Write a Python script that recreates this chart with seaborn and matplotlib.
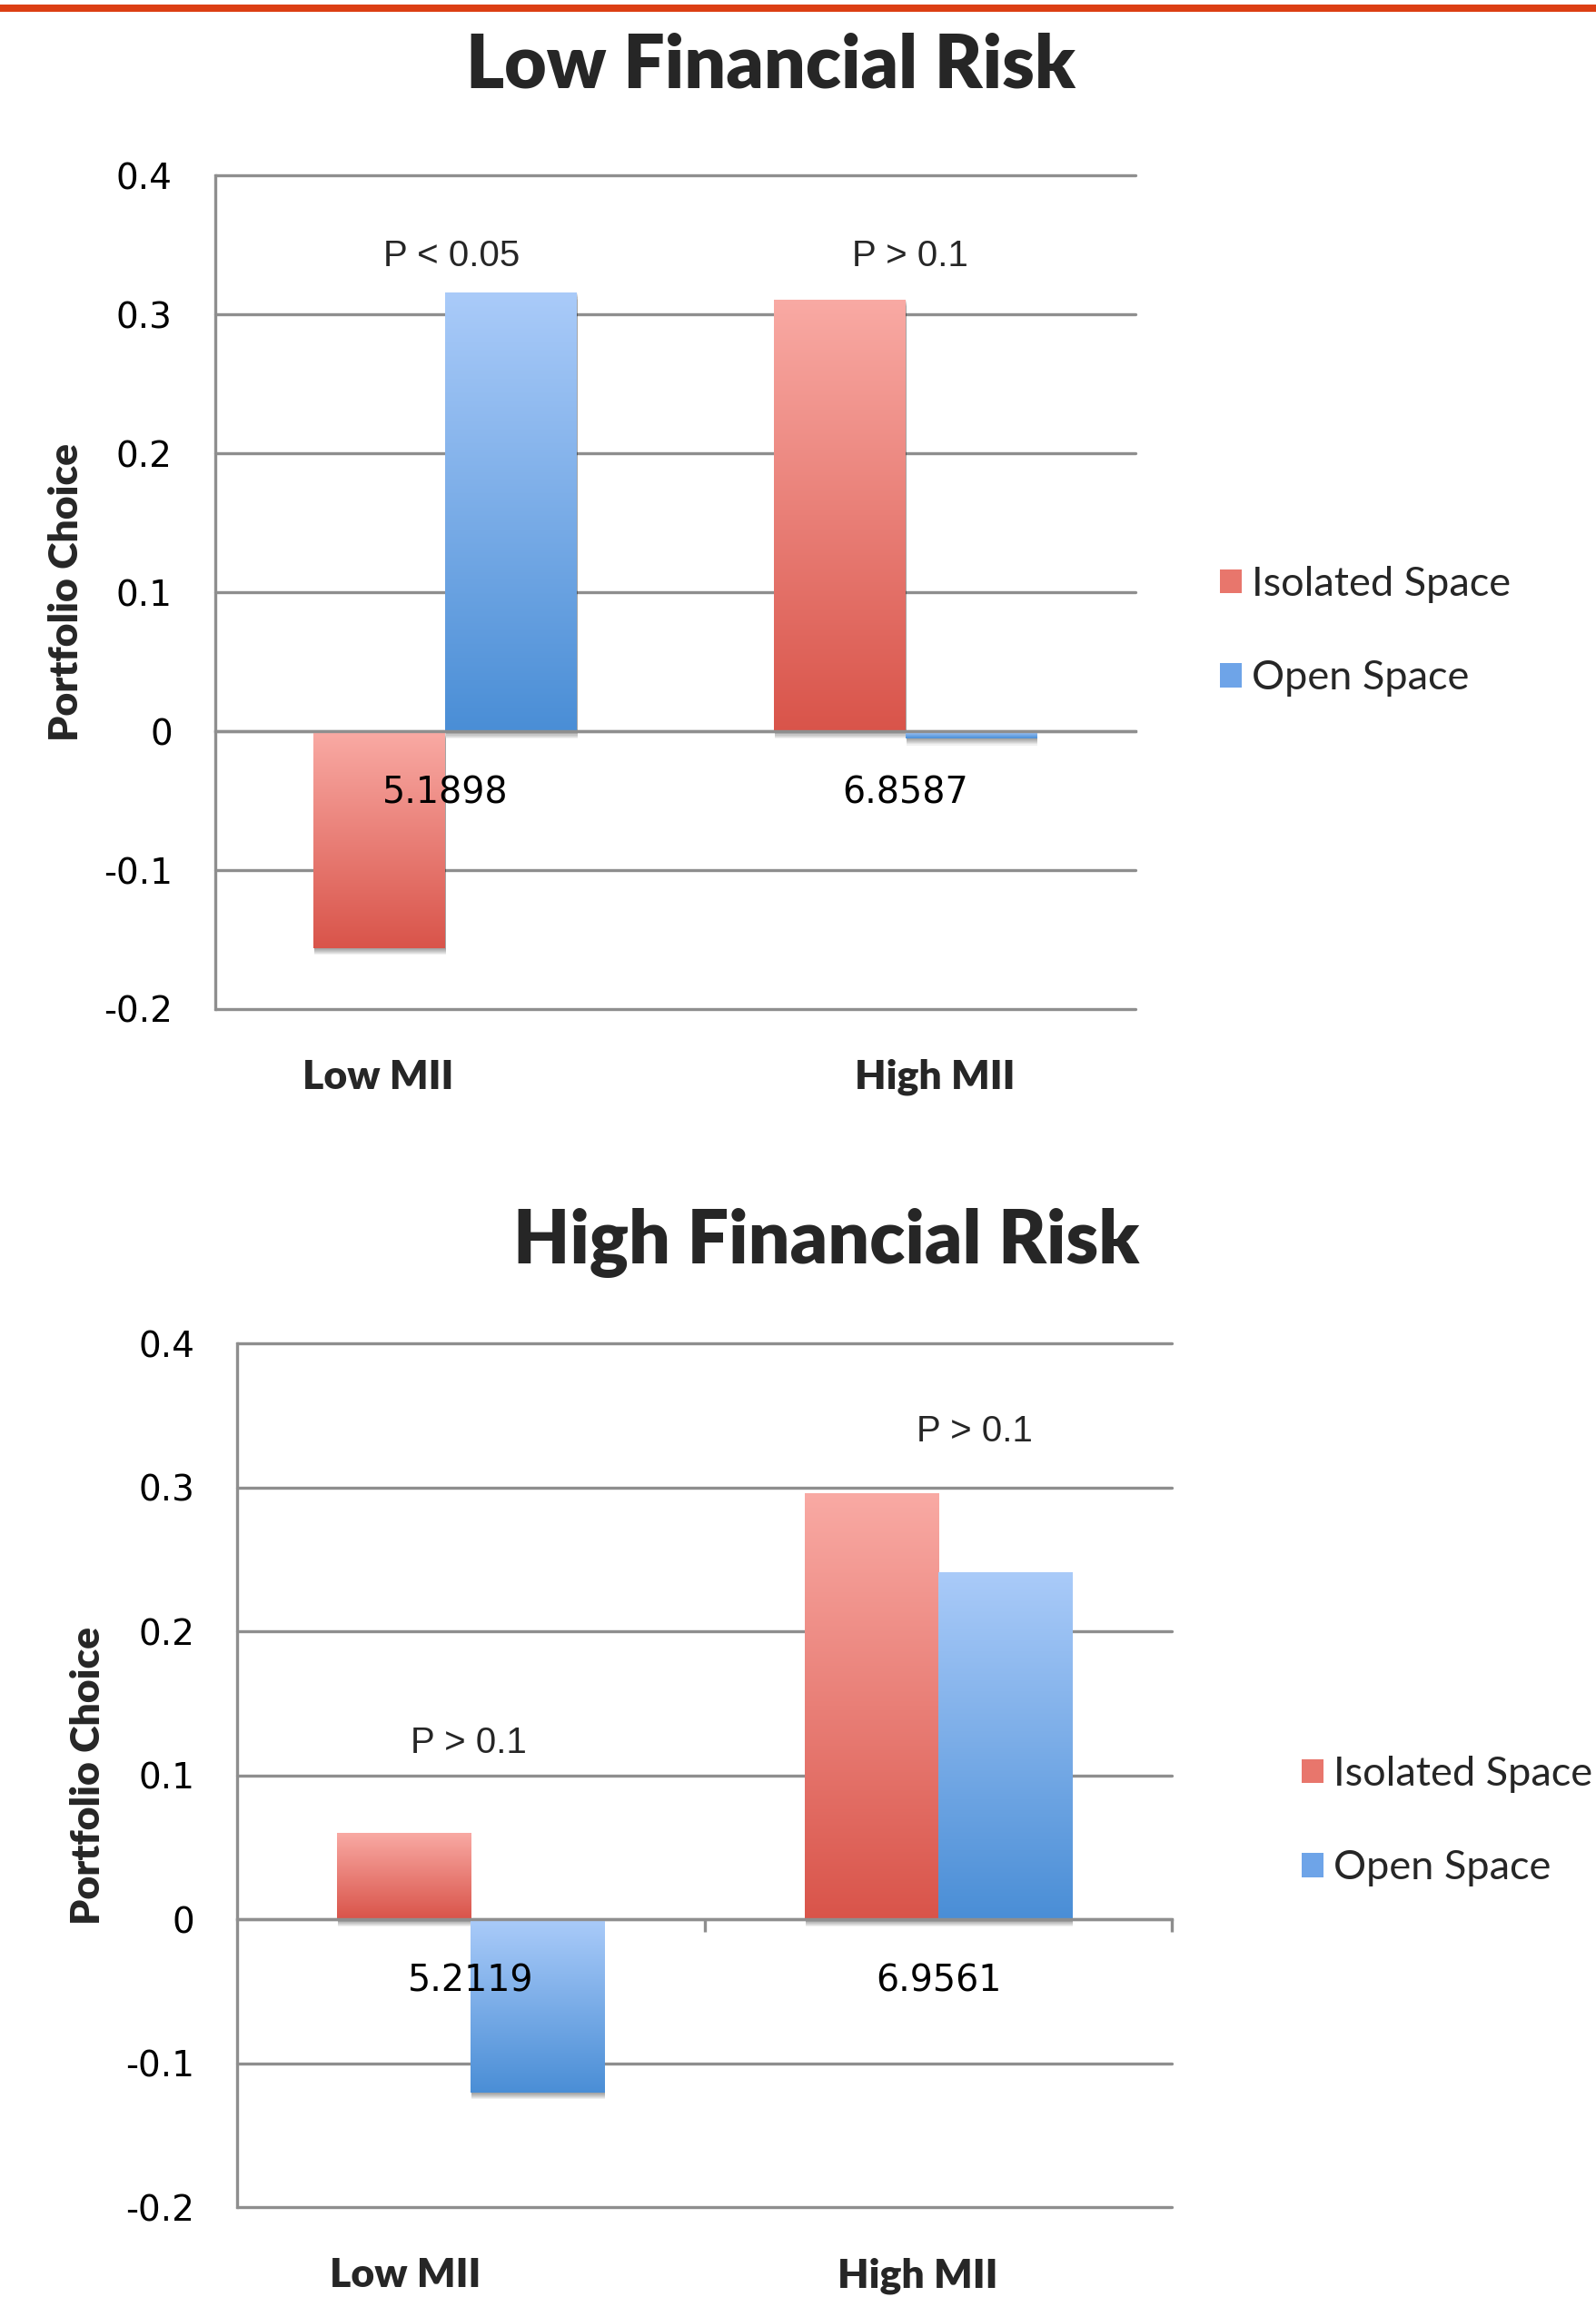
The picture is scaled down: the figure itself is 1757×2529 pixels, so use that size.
import numpy as np
import pandas as pd
import matplotlib
matplotlib.use("Agg")
import matplotlib.pyplot as plt
import matplotlib.patheffects as pe
import seaborn as sns
from matplotlib.patches import Patch, Rectangle
from matplotlib.colors import LinearSegmentedColormap
from matplotlib.ticker import FuncFormatter, FixedLocator

# ---------------------------------------------------------------- data
spaces = ["Isolated Space", "Open Space"]
group_names = ["Low MII", "High MII"]

low_risk_mii = ["5.1898", "6.8587"]
low_risk_isolated = [-0.156, 0.311]
low_risk_open = [0.316, -0.005]
low_risk_p = ["P < 0.05", "P > 0.1"]

high_risk_mii = ["5.2119", "6.9561"]
high_risk_isolated = [0.060, 0.296]
high_risk_open = [-0.120, 0.241]
high_risk_p = ["P > 0.1", "P > 0.1"]

y_ticks = [-0.2, -0.1, 0.0, 0.1, 0.2, 0.3, 0.4]

# ---------------------------------------------------------------- style
sns.set_style("white")
plt.rcParams["font.family"] = ["DejaVu Sans"]
plt.rcParams["axes.unicode_minus"] = False

GRID = "#8e8e8e"
RED_TOP, RED_BOTTOM = "#F9AAA4", "#D9544A"
BLUE_TOP, BLUE_BOTTOM = "#AACBF9", "#4A8ED6"
RED_KEY, BLUE_KEY = "#E8766C", "#6EA4E8"
CALIBRI_LIKE = "Lato"
HEAVY = "heavy"


def frame(mii, iso, opn):
    return pd.DataFrame({
        "mii": mii * 2,
        "space": [spaces[0]] * len(mii) + [spaces[1]] * len(mii),
        "choice": list(iso) + list(opn),
    })


def shade_bars(ax):
    """Replace flat bar fills with a light-to-dark vertical gradient."""
    grad = np.linspace(0, 1, 256).reshape(-1, 1)
    shadows = [pe.SimplePatchShadow(offset=(0.6, -k), shadow_rgbFace="k", alpha=0.06)
               for k in (0.8, 1.6, 2.4, 3.2, 4.0, 4.8, 5.6)]
    for container, (top, bottom) in zip(ax.containers,
                                        [(RED_TOP, RED_BOTTOM), (BLUE_TOP, BLUE_BOTTOM)]):
        cmap = LinearSegmentedColormap.from_list("bar", [bottom, top])
        for bar in container:
            x0, w = bar.get_x(), bar.get_width()
            y0, h = bar.get_y(), bar.get_height()
            lo, hi = min(y0, y0 + h), max(y0, y0 + h)
            im = ax.imshow(grad, cmap=cmap, origin="lower", aspect="auto",
                           extent=[x0, x0 + w, lo, hi], interpolation="bicubic",
                           zorder=bar.get_zorder() + 0.1)
            im.set_clip_path(bar)
            bar.set_facecolor("none")
            bar.set_path_effects(shadows + [pe.Normal()])


def panel(ax, mii, iso, opn, pvals, p_pos, group_x, label_x, legend_anchor, minor):
    sns.barplot(data=frame(mii, iso, opn), x="mii", y="choice", hue="space",
                palette=[RED_KEY, BLUE_KEY], width=0.572, saturation=1,
                order=mii, hue_order=spaces, legend=False, ax=ax, linewidth=0)
    shade_bars(ax)

    ax.set_xlim(-0.5, 1.5)
    ax.set_ylim(y_ticks[0], y_ticks[-1])
    ax.set_yticks(y_ticks)
    ax.yaxis.set_major_formatter(FuncFormatter(lambda v, _: "0" if abs(v) < 1e-9 else f"{v:.1f}"))
    ax.set_xlabel("")
    ax.set_ylabel("")

    ax.set_axisbelow(True)
    ax.yaxis.grid(True, color=GRID, linewidth=2.4)
    ax.xaxis.grid(False)
    ax.xaxis.set_zorder(5)  # category labels sit on top of the bars
    for gl in ax.get_ygridlines():
        gl.set_clip_on(False)

    for side in ("top", "right"):
        ax.spines[side].set_visible(False)
    ax.spines["left"].set_color(GRID)
    ax.spines["left"].set_linewidth(2.4)
    ax.spines["bottom"].set_position(("data", 0))
    ax.spines["bottom"].set_color(GRID)
    ax.spines["bottom"].set_linewidth(2.4)

    ax.tick_params(axis="y", length=0, pad=34, labelsize=28, labelcolor="black")
    ax.tick_params(axis="x", which="major", length=0, pad=35, labelsize=28.5,
                   labelcolor="black")
    if minor:
        ax.xaxis.set_minor_locator(FixedLocator([0.5, 1.5]))
        ax.tick_params(axis="x", which="minor", bottom=True, length=10, width=2.4,
                       color=GRID, direction="out")

    for txt, (px, py) in zip(pvals, p_pos):
        ax.text(px, py, txt, ha="center", va="center", fontsize=29,
                family="Liberation Sans")

    for name, gx in zip(group_names, group_x):
        ax.annotate(name, xy=(gx, 0), xycoords=("data", "axes fraction"),
                    xytext=(0, -54), textcoords="offset points",
                    ha="center", va="center", fontsize=32,
                    family=CALIBRI_LIKE, fontweight=HEAVY)

    ax.text(label_x, 0.5, "Portfolio Choice", transform=ax.transAxes,
            rotation=90, ha="center", va="center", fontsize=32,
            family=CALIBRI_LIKE, fontweight=HEAVY)

    handles = [Patch(facecolor=RED_KEY, edgecolor="none"),
               Patch(facecolor=BLUE_KEY, edgecolor="none")]
    ax.legend(handles, spaces, loc="center left", bbox_to_anchor=legend_anchor,
              frameon=False, borderpad=0, borderaxespad=0,
              handlelength=0.52, handleheight=0.52, handletextpad=0.26,
              labelspacing=1.38, prop={"family": CALIBRI_LIKE, "size": 32.5})


fig = plt.figure(figsize=(17.58, 25.29), dpi=100)

# orange rule across the top of the page
fig.add_artist(Rectangle((0, 1 - 13 / 2529), 1, 8 / 2529, transform=fig.transFigure,
                         facecolor="#DC3F14", edgecolor="none"))

ax_top = fig.add_axes([0.1348, 0.5607, 0.5762, 0.3628])
panel(ax_top, low_risk_mii, low_risk_isolated, low_risk_open, low_risk_p,
      p_pos=[(0.013, 0.342), (1.01, 0.342)],
      group_x=[-0.146, 1.064], label_x=-0.162,
      legend_anchor=(1.092, 0.453), minor=False)

ax_bot = fig.add_axes([0.1486, 0.03895, 0.5853, 0.3762])
panel(ax_bot, high_risk_mii, high_risk_isolated, high_risk_open, high_risk_p,
      p_pos=[(-0.005, 0.1224), (1.077, 0.339)],
      group_x=[-0.14, 0.955], label_x=-0.16,
      legend_anchor=(1.139, 0.447), minor=True)

fig.text(0.4825, 0.9713, "Low Financial Risk", ha="center", va="center",
         fontsize=58, family=CALIBRI_LIKE, fontweight=HEAVY)
fig.text(0.5176, 0.459, "High Financial Risk", ha="center", va="center",
         fontsize=58, family=CALIBRI_LIKE, fontweight=HEAVY)

fig.savefig("out.png", dpi=100)
